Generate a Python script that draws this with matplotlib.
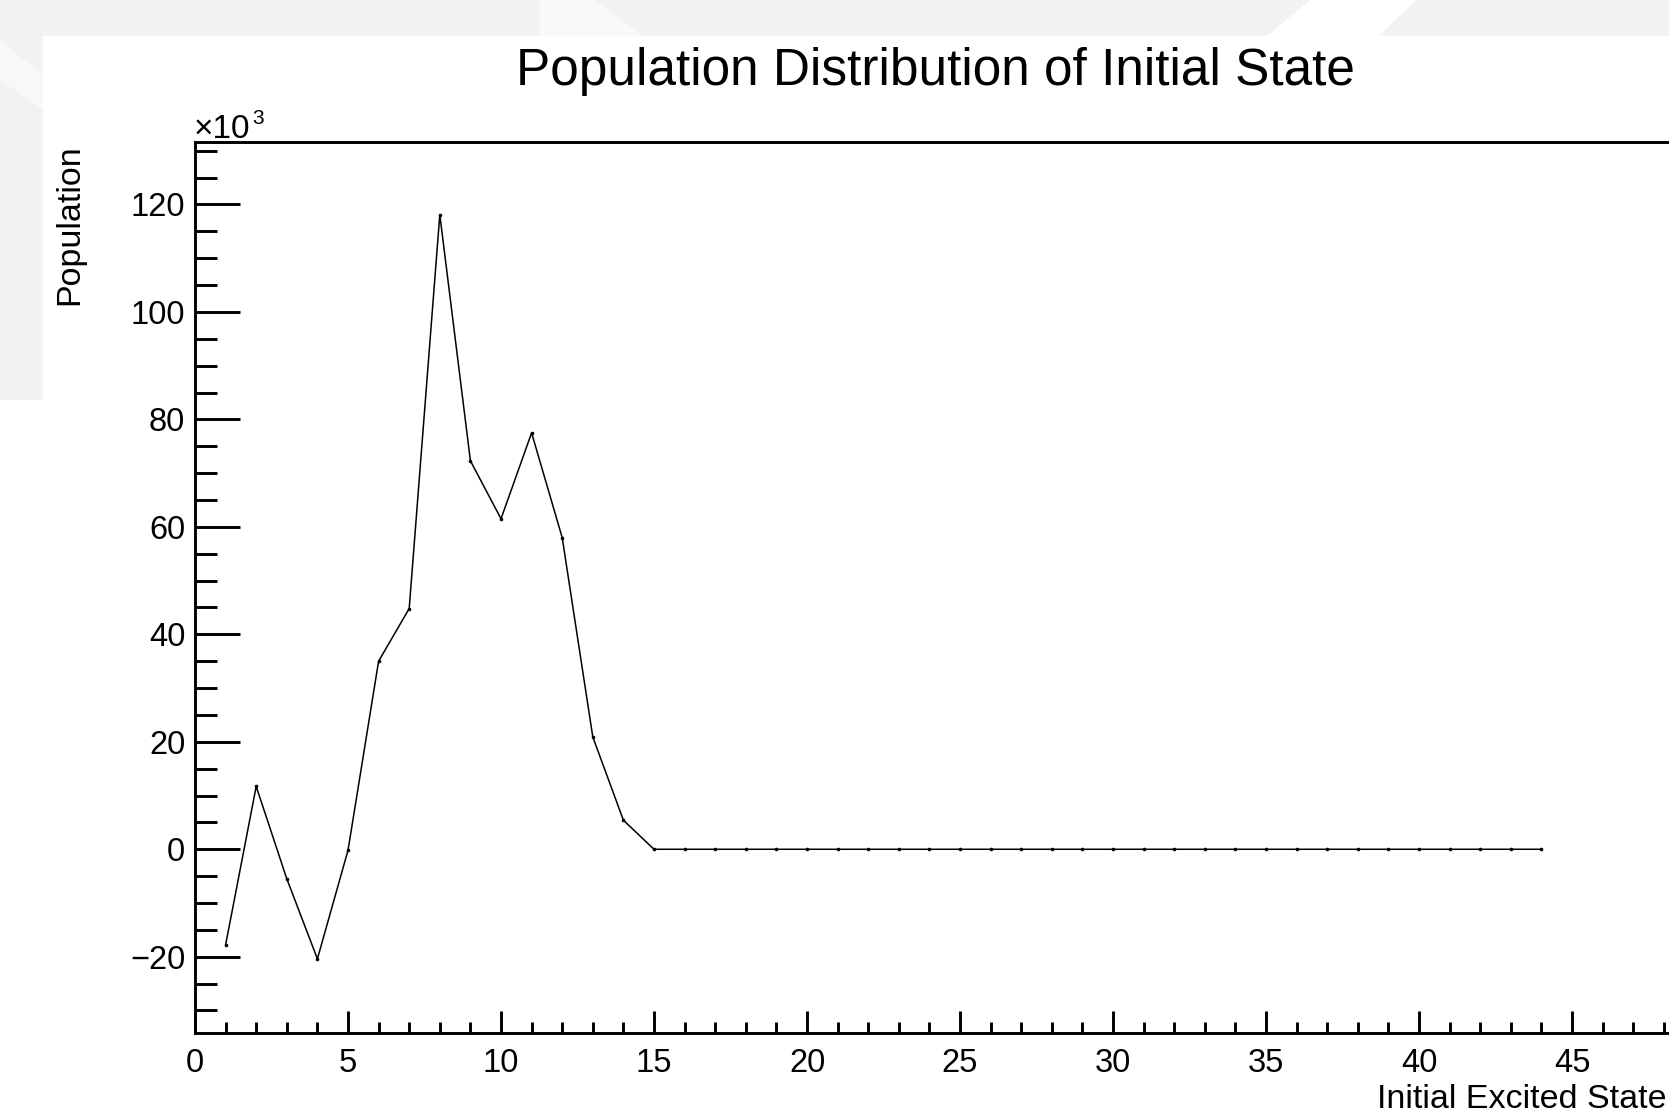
import matplotlib
matplotlib.use('Agg')
import matplotlib.pyplot as plt
from matplotlib.patches import Polygon, Rectangle
from matplotlib.ticker import MultipleLocator

plt.rcParams['font.family'] = ['Liberation Sans', 'DejaVu Sans']

# initial excited state index and population (in units of 10^3)
states = [1, 2, 3, 4, 5, 6, 7, 8, 9, 10, 11, 12, 13, 14, 15,
          16, 17, 18, 19, 20, 21, 22, 23, 24, 25, 26, 27, 28, 29, 30,
          31, 32, 33, 34, 35, 36, 37, 38, 39, 40, 41, 42, 43, 44]
population = [-17.8, 11.7, -5.5, -20.4, -0.2, 35.0, 44.8, 118.1, 72.3, 61.5,
              77.5, 58.0, 20.9, 5.4, 0.0, 0.0, 0.0, 0.0, 0.0, 0.0,
              0.0, 0.0, 0.0, 0.0, 0.0, 0.0, 0.0, 0.0, 0.0, 0.0,
              0.0, 0.0, 0.0, 0.0, 0.0, 0.0, 0.0, 0.0, 0.0, 0.0,
              0.0, 0.0, 0.0, 0.0]

title = 'Population Distribution of Initial State'
xlabel = 'Initial Excited State'
ylabel = 'Population'

W, H = 1669, 1113
fig = plt.figure(figsize=(W / 100, H / 100), dpi=100, facecolor='white')

# faint slide background behind the canvas
bg = fig.add_axes([0, 0, 1, 1], zorder=-10)
bg.set_xlim(0, W)
bg.set_ylim(H, 0)
bg.axis('off')
grey = '#f3f2f0'
bg.add_patch(Rectangle((0, 0), W, 36, color=grey, lw=0))
bg.add_patch(Rectangle((0, 0), 43, 400, color=grey, lw=0))
bg.add_patch(Polygon([(1310, 0), (1416, 0), (1379, 36), (1267, 36)], color='white', lw=0))
bg.add_patch(Polygon([(540, 0), (594, 0), (644, 36), (540, 36)], color='#f9f9f8', lw=0))
bg.add_patch(Polygon([(0, 40), (43, 75), (43, 110), (0, 80)], color='#f8f8f7', lw=0))
bg.add_patch(Rectangle((43, 36), W - 43, H - 36, color='white', lw=0))

left, right = 195, 1673
top, bottom = 141.6, 1032.5
ax = fig.add_axes([left / W, 1 - bottom / H, (right - left) / W, (bottom - top) / H])
ax.set_facecolor('none')

ax.plot(states, population, color='black', lw=1.1, marker='o', ms=1.6,
        mfc='black', mec='black')

ax.set_xlim(0, 48.3)
ax.set_ylim(-34.1, 131.7)

ax.xaxis.set_major_locator(MultipleLocator(5))
ax.xaxis.set_minor_locator(MultipleLocator(1))
ax.yaxis.set_major_locator(MultipleLocator(20))
ax.yaxis.set_minor_locator(MultipleLocator(5))

for s in ax.spines.values():
    s.set_linewidth(2.1)
ax.tick_params(axis='both', which='both', direction='in', width=2.1,
               top=False, right=False, labelsize=23.5)
ax.tick_params(axis='y', which='major', length=32.4, pad=7)
ax.tick_params(axis='y', which='minor', length=15.8)
ax.tick_params(axis='x', which='major', length=15.8, pad=11)
ax.tick_params(axis='x', which='minor', length=7.9)

# exponent marker above the y axis
ax.annotate('×10', xy=(0, 1), xycoords='axes fraction', xytext=(-1, 2.5),
            textcoords='offset points', ha='left', va='baseline', fontsize=24)
ax.annotate('3', xy=(0, 1), xycoords='axes fraction', xytext=(41.5, 13),
            textcoords='offset points', ha='left', va='baseline', fontsize=15)

fig.text(935 / W, 1 - 85 / H, title, ha='center', va='baseline', fontsize=37)
fig.text(70 / W, 1 - 144 / H, ylabel, rotation=90, ha='center', va='top', fontsize=24.5)
fig.text(1667 / W, 1 - 1108 / H, xlabel, ha='right', va='baseline', fontsize=24.5)

fig.savefig('out.png', dpi=100, facecolor=fig.get_facecolor())
